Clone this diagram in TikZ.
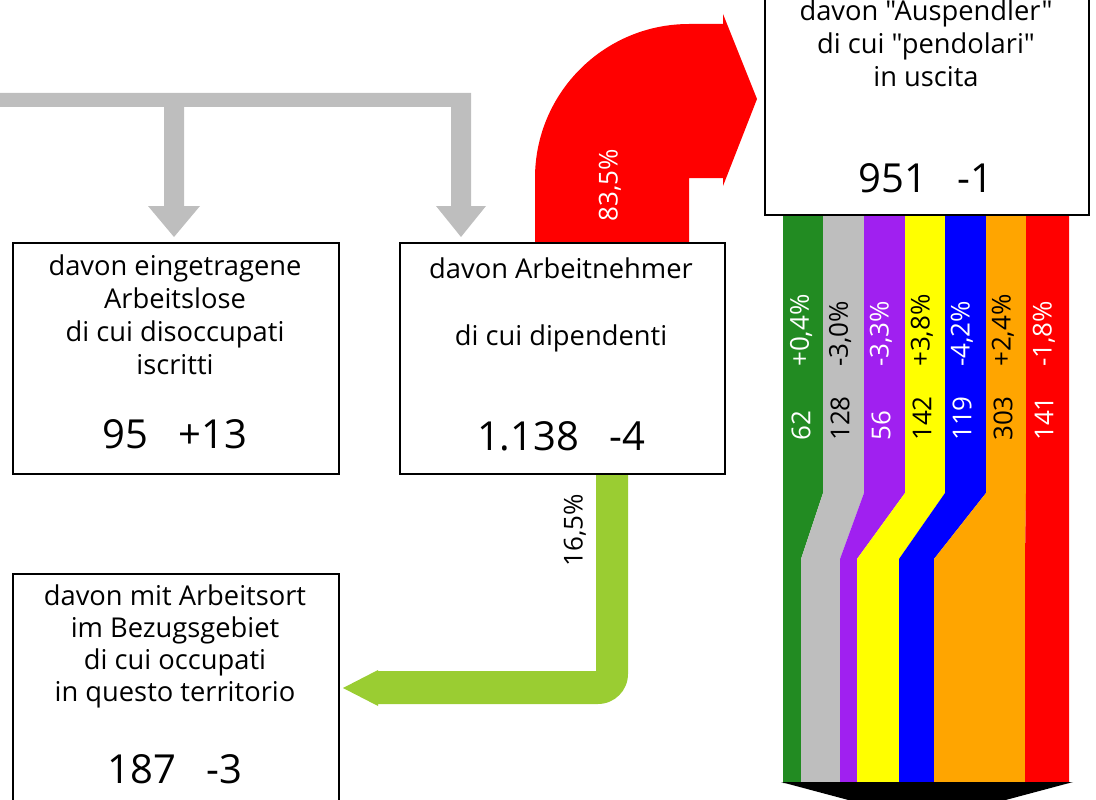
\documentclass[tikz,border=0pt]{standalone}
\usepackage{fontspec}
\setmainfont{Open Sans}
\newfontfamily\labfont{Open Sans}
\definecolor{cgreen}{HTML}{228B22}
\definecolor{cgray}{HTML}{BEBEBE}
\definecolor{cpurple}{HTML}{A020F0}
\definecolor{cyellow}{HTML}{FFFF00}
\definecolor{cblue}{HTML}{0000FF}
\definecolor{corange}{HTML}{FFA500}
\definecolor{cred}{HTML}{FF0000}
\definecolor{clime}{HTML}{9ACD32}
\begin{document}
\begin{tikzpicture}[x=1pt,y=-1pt,
  box/.style={draw=black,line width=2pt,fill=white,inner sep=0pt,anchor=north west},
  txt/.style={anchor=base,inner sep=0pt,font=\labfont\fontsize{27.3}{32}\selectfont},
  num/.style={anchor=base,inner sep=0pt,font=\labfont\fontsize{40}{44}\selectfont},
  vlab/.style={rotate=90,anchor=west,inner sep=0pt,font=\labfont\fontsize{26}{30}\selectfont},
  pct/.style={rotate=90,inner sep=0pt,font=\labfont\fontsize{26}{30}\selectfont}]
\clip (0,0) rectangle (1096,800);
% gray arrow
\fill[cgray] (-5,93) -- (471,93) -- (471,206) -- (486,206) -- (461,237) -- (436,206) -- (451,206) -- (451,107)
  -- (184,107) -- (184,206) -- (200,206) -- (174,237) -- (148,206) -- (164,206) -- (164,107) -- (-5,107) -- cycle;
% red arrow
\fill[cred] (535,242) -- (535,178) .. controls (535,93) and (604,24) .. (689,24) -- (723,24) -- (723,14)
  -- (757,99) -- (723,186) -- (723,178) -- (689,178) -- (689,242) -- cycle;
% green arrow
\fill[clime] (596,470) -- (628,470) -- (628,674) .. controls (628,690.6) and (614.6,704) .. (598,704)
  -- (378,704) -- (378,706) -- (343,688) -- (378,670) -- (378,671) -- (596,671) -- cycle;
% stripes
\foreach \ua/\ub/\la/\lb/\col in {783/823/783/801/cgreen, 823/864/801/840/cgray, 864/905/840/857/cpurple,
  905/945/857/899/cyellow, 945/986/899/934/cblue, 986/1026/934/1025/corange, 1026/1069/1025/1069/cred}{
  \fill[\col] (\ua,212) -- (\ub,212) -- (\ub,493) -- (\lb,559) -- (\lb,783) -- (\la,783) -- (\la,559) -- (\ua,493) -- cycle;
}
% black arrow head
\fill[black] (781,782) -- (1073,782) -- (927,821) -- cycle;
% boxes
\node[box,minimum width=326pt,minimum height=231pt] (b1) at (12,242) {};
\node[box,minimum width=325pt,minimum height=231pt] (b2) at (399,242) {};
\node[box,minimum width=326pt,minimum height=280pt] (b3) at (12,573) {};
\node[box,minimum width=324pt,minimum height=260pt] (b4) at (764,-46) {};
% box 1 text
\node[txt] (t1a) at (175,275) {davon eingetragene};
\node[txt] (t1b) at (175,308) {Arbeitslose};
\node[txt] (t1c) at (175,341) {di cui disoccupati};
\node[txt] (t1d) at (175,374) {iscritti};
\node[num] (n1) at (175,448) {95\hspace{0.75em}+13};
% box 2 text
\node[txt] (t2a) at (561,278) {davon Arbeitnehmer};
\node[txt] (t2b) at (561,345) {di cui dipendenti};
\node[num] (n2) at (561,450) {1.138\hspace{0.75em}-4};
% box 3 text
\node[txt] (t3a) at (175,605) {davon mit Arbeitsort};
\node[txt] (t3b) at (175,637) {im Bezugsgebiet};
\node[txt] (t3c) at (175,669) {di cui occupati};
\node[txt] (t3d) at (175,701) {in questo territorio};
\node[num] (n3) at (175,783) {187\hspace{0.75em}-3};
% box 4 text
\node[txt] (t4a) at (926,21) {davon "Auspendler"};
\node[txt] (t4b) at (926,54) {di cui "pendolari"};
\node[txt] (t4c) at (926,87) {in uscita};
\node[num] (n4) at (926,192) {951\hspace{0.75em}-1};
% arrow labels
\node[pct,text=white] (p1) at (610,185) {83,5\%};
\node[pct,text=black] (p2) at (575,530) {16,5\%};
% stripe labels
\foreach \i/\x/\v/\p/\c in {1/801/62/{+0,4}/white, 2/840/128/{-3,0}/black, 3/881/56/{-3,3}/white, 4/922/142/{+3,8}/black,
  5/962/119/{-4,2}/white, 6/1003/303/{+2,4}/black, 7/1044/141/{-1,8}/white}{
  \node[vlab,text=\c] (v\i) at (\x,441) {\v};
  \node[vlab,text=\c] (q\i) at (\x,367) {\p\%};
}
\end{tikzpicture}
\end{document}
